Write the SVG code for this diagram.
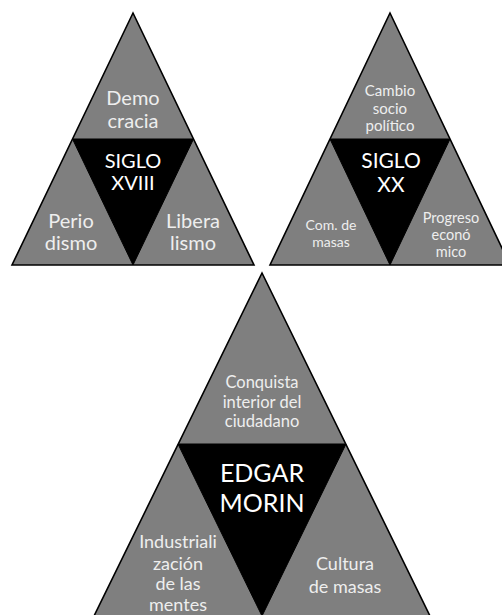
<svg xmlns="http://www.w3.org/2000/svg" width="502" height="615" viewBox="0 0 502 615">
<style>
.outer{fill:#7f7f7f;stroke:#000;stroke-width:1.6;stroke-linejoin:miter}
.inner{fill:#000;stroke:#000;stroke-width:1}
text{font-family:Lato,"Liberation Sans",sans-serif;text-anchor:middle}
.g{fill:#eeeeee}
.w{fill:#ffffff}
</style>
<rect width="502" height="615" fill="#ffffff"/>
<g id="siglo-xviii">
<polygon class="outer" points="133,13 12,265 254,265"/>
<polygon class="inner" points="72.5,139 193.5,139 133,265"/>
<g class="g" font-size="20">
<text x="133" y="105">Demo</text>
<text x="133" y="128">cracia</text>
<text x="71" y="228">Perio</text>
<text x="71" y="250">dismo</text>
<text x="193" y="228">Libera</text>
<text x="193" y="250">lismo</text>
</g>
<g class="w" font-size="20">
<text x="133" y="168">SIGLO</text>
<text x="133" y="190">XVIII</text>
</g>
</g>
<g id="siglo-xx">
<polygon class="outer" points="390,13 270,265 510,265"/>
<polygon class="inner" points="330,139 450,139 390,265"/>
<g class="g" font-size="15">
<text x="390" y="96">Cambio</text>
<text x="390" y="114">socio</text>
<text x="390" y="131">político</text>
<text x="331" y="230" font-size="14">Com. de</text>
<text x="331" y="247" font-size="14">masas</text>
<text x="451" y="223" font-size="14.5">Progreso</text>
<text x="451" y="240" font-size="14.5">econó</text>
<text x="451" y="257" font-size="14.5">mico</text>
</g>
<g class="w" font-size="21">
<text x="391" y="168">SIGLO</text>
<text x="391" y="192">XX</text>
</g>
</g>
<g id="edgar-morin">
<polygon class="outer" points="262,273 94,616 430,616"/>
<polygon class="inner" points="178,444 346,444 262,616"/>
<g class="g" font-size="16.5">
<text x="262" y="388">Conquista</text>
<text x="262" y="408">interior del</text>
<text x="262" y="427">ciudadano</text>
</g>
<g class="g" font-size="18">
<text x="178" y="548">Industriali</text>
<text x="178" y="570">zación</text>
<text x="178" y="590">de las</text>
<text x="178" y="611">mentes</text>
<text x="345" y="570">Cultura</text>
<text x="345" y="593">de masas</text>
</g>
<g class="w" font-size="25">
<text x="262" y="482">EDGAR</text>
<text x="262" y="512">MORIN</text>
</g>
</g>
<g id="connectors"></g>
</svg>
